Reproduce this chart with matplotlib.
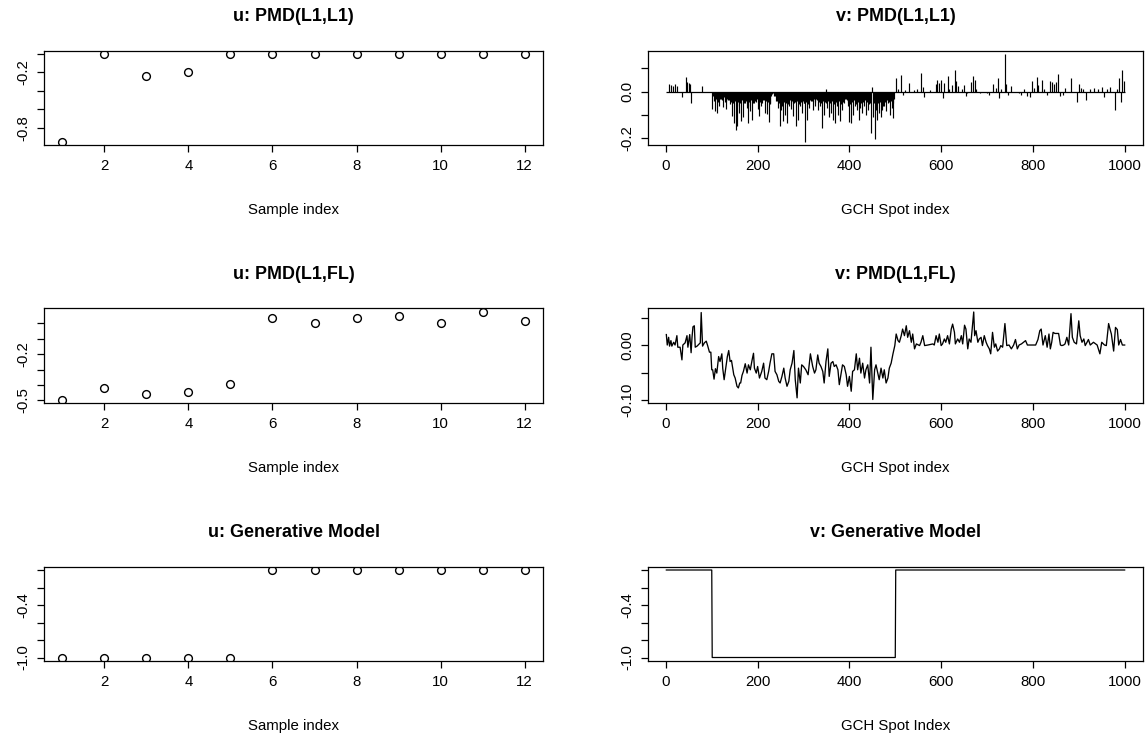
import numpy as np
import matplotlib
matplotlib.use("Agg")
import matplotlib.pyplot as plt
from matplotlib.ticker import FixedLocator, FixedFormatter

plt.rcParams['font.family'] = ['Liberation Sans', 'DejaVu Sans']

# ---------------- data ----------------
sample_index = [1, 2, 3, 4, 5, 6, 7, 8, 9, 10, 11, 12]
u_l1l1 = [-0.95, 0.0, -0.235, -0.20, 0.0, 0.0, 0.0, 0.0, 0.0, 0.0, 0.0, 0.0]
u_l1fl = [-0.494, -0.420, -0.457, -0.448, -0.392, 0.036, -0.001, 0.036, 0.044, -0.001, 0.072, 0.016]
u_gen = [-1.0, -1.0, -1.0, -1.0, -1.0, 0.0, 0.0, 0.0, 0.0, 0.0, 0.0, 0.0]

n_spots = 1000

# v: PMD(L1,L1) -- non-zero spikes (index, value); all other spots are 0
v_l1l1_idx = [6, 11, 16, 20, 24, 35, 44, 47, 50, 52, 55, 79,
              100, 102, 104, 106, 108, 110, 112, 114, 116, 118, 120, 122, 124, 126, 128, 130,
              132, 134, 136, 138, 140, 142, 144, 146, 148, 150, 152, 154, 156, 158, 160, 162,
              164, 166, 168, 170, 172, 174, 176, 178, 180, 182, 184, 186, 188, 190, 192, 194,
              196, 198, 200, 202, 204, 206, 208, 210, 212, 214, 216, 218, 220, 222, 224, 226,
              228, 230, 232, 234, 236, 238, 240, 242, 244, 246, 248, 250, 252, 254, 256, 258,
              260, 262, 264, 266, 268, 270, 272, 274, 276, 278, 280, 282, 284, 286, 288, 290,
              292, 294, 296, 298, 300, 302, 304, 306, 308, 310, 312, 314, 316, 318, 320, 322,
              324, 326, 328, 330, 332, 334, 336, 338, 340, 342, 344, 346, 348, 350, 352, 354,
              356, 358, 360, 362, 364, 366, 368, 370, 372, 374, 376, 378, 380, 382, 384, 386,
              388, 390, 392, 394, 396, 398, 400, 402, 404, 406, 408, 410, 412, 414, 416, 418,
              420, 422, 424, 426, 428, 430, 432, 434, 436, 438, 440, 442, 444, 446, 448, 450,
              452, 454, 456, 458, 460, 462, 464, 466, 468, 470, 472, 474, 476, 478, 480, 482,
              484, 486, 488, 490, 492, 494, 496, 498,
              502, 507, 513, 517, 522, 531, 540, 548, 557, 560, 563, 575, 588, 592, 596, 600,
              604, 607, 614, 618, 623, 630, 633, 637, 646, 650, 654, 657, 665, 670, 673, 677,
              685, 700, 705, 712, 719, 723, 727, 731, 739, 742, 746, 752, 770, 775, 781, 787,
              793, 798, 802, 809, 812, 820, 825, 831, 838, 842, 846, 850, 855, 858, 866, 871,
              882, 897, 900, 905, 910, 916, 924, 933, 942, 950, 956, 962, 967, 978, 983, 987,
              991, 995, 998]
v_l1l1_val = [0.03, 0.028, 0.025, 0.03, 0.025, -0.025, 0.06, 0.04, 0.035, 0.03, -0.05, 0.025,
              -0.076, -0.02, -0.04, -0.035, -0.083, -0.03, -0.09, -0.045, -0.06, -0.03, -0.03, -0.035,
              -0.065, -0.025, -0.045, -0.04, -0.076, -0.03, -0.035, -0.035, -0.055, -0.045, -0.105, -0.05,
              -0.133, -0.04, -0.165, -0.06, -0.148, -0.045, -0.09, -0.05, -0.126, -0.035, -0.11, -0.05,
              -0.05, -0.04, -0.07, -0.06, -0.133, -0.045, -0.085, -0.035, -0.12, -0.05, -0.05, -0.04,
              -0.045, -0.03, -0.076, -0.035, -0.105, -0.045, -0.06, -0.05, -0.035, -0.035, -0.09, -0.04,
              -0.097, -0.045, -0.13, -0.05, -0.055, -0.02, -0.01, -0.005, -0.02, -0.02, -0.04, -0.04,
              -0.07, -0.05, -0.148, -0.04, -0.08, -0.06, -0.125, -0.045, -0.1, -0.05, -0.133, -0.055,
              -0.06, -0.035, -0.075, -0.04, -0.105, -0.05, -0.05, -0.045, -0.148, -0.04, -0.12, -0.055,
              -0.06, -0.045, -0.09, -0.04, -0.05, -0.05, -0.213, -0.045, -0.12, -0.055, -0.07, -0.035,
              -0.04, -0.04, -0.08, -0.03, -0.06, -0.045, -0.03, -0.035, -0.08, -0.045, -0.06, -0.05,
              -0.155, -0.04, -0.1, -0.045, -0.05, 0.01, -0.07, -0.04, -0.11, -0.05, -0.09, -0.04,
              -0.12, -0.055, -0.135, -0.045, -0.06, -0.05, -0.1, -0.04, -0.125, -0.055, -0.08, -0.045,
              -0.05, -0.03, -0.03, -0.035, -0.06, -0.045, -0.13, -0.055, -0.135, -0.045, -0.1, -0.035,
              -0.06, -0.055, -0.08, -0.045, -0.12, -0.04, -0.07, -0.05, -0.09, -0.045, -0.06, -0.035,
              -0.1, -0.045, -0.08, -0.055, -0.05, -0.04, -0.178, 0.02, -0.11, -0.05, -0.203, -0.08,
              -0.12, -0.05, -0.09, -0.045, -0.11, -0.04, -0.08, -0.06, -0.06, -0.045, -0.085, -0.035,
              -0.05, -0.045, -0.1, -0.04, -0.07, -0.05, -0.112, -0.03,
              0.058, 0.01, 0.072, -0.015, 0.008, 0.037, 0.005, 0.01, 0.079, 0.02, -0.022, 0.005,
              0.03, 0.049, 0.035, 0.05, -0.026, 0.035, 0.067, 0.01, 0.026, 0.093, 0.045, 0.025,
              0.01, 0.027, -0.018, -0.005, 0.04, 0.067, 0.048, 0.01, -0.005, -0.005, -0.015, 0.032,
              0.017, 0.057, -0.026, 0.01, 0.16, 0.03, -0.015, 0.025, -0.005, -0.015, 0.012, -0.02,
              -0.025, 0.045, 0.013, 0.06, 0.027, 0.05, 0.01, -0.015, 0.045, 0.04, 0.03, 0.04,
              0.074, -0.018, -0.015, 0.013, 0.057, -0.044, 0.03, 0.017, 0.01, -0.035, 0.01, 0.013,
              0.01, 0.02, -0.025, 0.01, 0.02, -0.078, 0.01, 0.058, -0.046, 0.093, 0.045]

# v: PMD(L1,FL) -- values read along the index
v_l1fl_idx = [1, 3, 6, 8, 11, 13, 17, 20, 24, 26, 31, 35, 37, 42, 46, 48, 52, 55, 57, 59,
              62, 64, 68, 75, 77, 80, 84, 88, 91, 95, 98, 100, 102, 105, 108, 111, 115, 118, 122, 124,
              127, 131, 134, 137, 140, 143, 148, 151, 155, 158, 161, 163, 166, 169, 173, 177, 180, 184, 188, 191,
              193, 197, 200, 204, 209, 213, 216, 220, 224, 227, 231, 235, 238, 242, 246, 249, 253, 257, 260, 264,
              268, 271, 275, 279, 282, 286, 289, 293, 296, 300, 305, 310, 315, 320, 324, 327, 331, 334, 338, 342,
              345, 349, 353, 356, 360, 364, 367, 371, 375, 378, 382, 385, 389, 393, 396, 400, 404, 407, 411, 415,
              418, 422, 425, 429, 433, 436, 440, 444, 447, 451, 455, 458, 462, 465, 469, 473, 476, 480, 484, 487,
              491, 495, 499, 502, 506, 509, 513, 516, 520, 524, 527, 531, 535, 538, 542, 546, 553, 556, 560, 564,
              571, 582, 585, 589, 593, 596, 600, 603, 607, 610, 614, 618, 622, 625, 629, 631, 636, 640, 644, 647,
              651, 654, 658, 661, 665, 671, 673, 676, 680, 683, 687, 690, 694, 698, 701, 705, 708, 712, 716, 719,
              723, 727, 730, 734, 739, 743, 748, 753, 758, 762, 766, 770, 775, 784, 788, 795, 806, 811, 815, 818,
              822, 827, 831, 835, 838, 841, 844, 848, 851, 854, 856, 860, 863, 867, 870, 874, 878, 883, 886, 890,
              895, 900, 903, 907, 911, 914, 918, 921, 925, 932, 940, 946, 950, 956, 960, 965, 968, 971, 976, 980,
              984, 987, 991, 995, 1000]
v_l1fl_val = [0.019, 0.0, 0.014, -0.002, 0.008, -0.002, 0.005, 0.0, 0.017, -0.004, -0.004, -0.027, 0.0, 0.004, 0.017, -0.004, 0.019, -0.014, 0.014, 0.033,
              0.035, -0.004, -0.002, 0.004, 0.059, -0.002, 0.004, 0.007, -0.001, -0.013, -0.013, -0.045, -0.045, -0.062, -0.043, -0.051, -0.021, -0.030, -0.016, -0.043,
              -0.063, -0.039, -0.021, -0.010, -0.030, -0.028, -0.054, -0.060, -0.075, -0.078, -0.069, -0.069, -0.055, -0.048, -0.034, -0.051, -0.036, -0.045, -0.027, -0.015,
              -0.042, -0.051, -0.039, -0.060, -0.048, -0.033, -0.060, -0.063, -0.048, -0.033, -0.016, -0.016, -0.048, -0.054, -0.066, -0.069, -0.057, -0.042, -0.060, -0.075,
              -0.066, -0.045, -0.033, -0.010, -0.063, -0.096, -0.042, -0.069, -0.036, -0.039, -0.045, -0.054, -0.016, -0.039, -0.051, -0.045, -0.018, -0.033, -0.039, -0.048,
              -0.069, -0.030, -0.007, -0.057, -0.033, -0.030, -0.039, -0.036, -0.045, -0.072, -0.051, -0.036, -0.039, -0.054, -0.075, -0.057, -0.084, -0.048, -0.045, -0.016,
              -0.045, -0.024, -0.051, -0.033, -0.060, -0.045, -0.036, -0.069, -0.004, -0.099, -0.045, -0.036, -0.051, -0.063, -0.042, -0.060, -0.045, -0.069, -0.060, -0.042,
              -0.033, -0.016, -0.001, 0.020, 0.008, 0.005, 0.017, 0.029, 0.017, 0.035, 0.014, 0.026, 0.005, 0.020, -0.007, 0.002, -0.001, 0.005, 0.017, -0.001,
              0.0, 0.002, 0.0, 0.017, 0.005, 0.020, -0.001, 0.002, 0.011, 0.005, 0.017, 0.002, 0.029, 0.038, 0.023, 0.002, 0.011, 0.005, 0.017, 0.002,
              0.036, 0.029, -0.007, 0.011, 0.005, 0.060, 0.017, 0.026, 0.005, 0.011, 0.014, -0.001, 0.017, 0.005, -0.001, -0.007, -0.016, 0.023, -0.004, 0.002,
              -0.011, -0.007, -0.001, -0.004, 0.039, -0.001, 0.0, -0.007, 0.0, 0.010, -0.007, 0.0, 0.002, 0.008, 0.0, 0.0, 0.0, 0.010, 0.026, 0.029,
              0.0, 0.017, -0.004, 0.020, -0.007, 0.005, 0.023, 0.021, 0.021, 0.021, 0.021, 0.0, -0.001, 0.0, 0.002, 0.014, 0.0, 0.057, 0.014, 0.005,
              0.002, 0.044, 0.017, 0.005, 0.011, -0.001, 0.005, 0.010, 0.0, 0.005, 0.0, -0.016, 0.005, 0.0, -0.001, 0.039, 0.029, 0.020, -0.011, 0.032,
              0.028, 0.0, 0.010, 0.0, 0.0]

# v: Generative Model -- piecewise constant segments
v_gen_levels = [0.0, -1.0, 0.0]
v_gen_lengths = [100, 400, 500]

# axis ticks / labels
u_xticks = [2, 4, 6, 8, 10, 12]
v_xticks = [0, 200, 400, 600, 800, 1000]

# ---------------- figure ----------------
W, H = 1148, 736
fig = plt.figure(figsize=(W / 100, H / 100), dpi=100)

col_x = [(44, 543), (648, 1143)]
row_top = [50.5, 308.5, 566.5]
box_h = 94.5


def make_ax(r, c):
    x0, x1 = col_x[c]
    top = row_top[r]
    return fig.add_axes([x0 / W, 1 - (top + box_h) / H, (x1 - x0) / W, box_h / H])


TICK_FS = 10.8
TITLE_FS = 12.9


def style(ax, title, xlabel, xticks, yticks, ylabels):
    ax.margins(0.04)
    for s in ax.spines.values():
        s.set_linewidth(0.9)
        s.set_color('black')
    ax.xaxis.set_major_locator(FixedLocator(xticks))
    ax.xaxis.set_major_formatter(FixedFormatter([str(t) for t in xticks]))
    ax.yaxis.set_major_locator(FixedLocator(yticks))
    ax.yaxis.set_major_formatter(FixedFormatter(ylabels))
    ax.tick_params(axis='both', direction='out', length=5, width=0.9,
                   labelsize=TICK_FS, colors='black', pad=5)
    ax.tick_params(axis='y', labelrotation=90)
    for lab in ax.get_yticklabels():
        lab.set_va('center')
    ax.set_title(title, fontsize=TITLE_FS, fontweight='bold', pad=21)
    ax.set_xlabel(xlabel, fontsize=TICK_FS, labelpad=21.5)


# Left column: u
u_series = [u_l1l1, u_l1fl, u_gen]
u_titles = ['u: PMD(L1,L1)', 'u: PMD(L1,FL)', 'u: Generative Model']
u_yticks = [[-0.8, -0.6, -0.4, -0.2, 0.0],
            [-0.5, -0.4, -0.3, -0.2, -0.1, 0.0],
            [-1.0, -0.8, -0.6, -0.4, -0.2, 0.0]]
u_ylabels = [['-0.8', '', '', '-0.2', ''],
             ['-0.5', '', '', '-0.2', '', ''],
             ['-1.0', '', '', '-0.4', '', '']]
for r in range(3):
    ax = make_ax(r, 0)
    ax.plot(sample_index, u_series[r], linestyle='none', marker='o', markersize=5.6,
            markerfacecolor='none', markeredgecolor='black', markeredgewidth=1.0)
    style(ax, u_titles[r], 'Sample index', u_xticks, u_yticks[r], u_ylabels[r])

spot_index = np.arange(1, n_spots + 1)

# v: PMD(L1,L1) spikes
v1 = np.zeros(n_spots)
v1[np.array(v_l1l1_idx) - 1] = v_l1l1_val
ax = make_ax(0, 1)
ax.vlines(spot_index, 0, v1, colors='black', linewidth=0.85)
ax.hlines(0, spot_index[0], spot_index[-1], colors='black', linewidth=0.9)
style(ax, 'v: PMD(L1,L1)', 'GCH Spot index', v_xticks,
      [-0.2, -0.1, 0.0, 0.1], ['-0.2', '', '0.0', ''])

# v: PMD(L1,FL) line
ax = make_ax(1, 1)
ax.plot(v_l1fl_idx, v_l1fl_val, color='black', linewidth=0.95)
style(ax, 'v: PMD(L1,FL)', 'GCH Spot index', v_xticks,
      [-0.10, -0.05, 0.00, 0.05], ['-0.10', '', '0.00', ''])

# v: Generative model
v3 = np.repeat(v_gen_levels, v_gen_lengths)
ax = make_ax(2, 1)
ax.plot(spot_index, v3, color='black', linewidth=0.9)
style(ax, 'v: Generative Model', 'GCH Spot Index', v_xticks,
      [-1.0, -0.8, -0.6, -0.4, -0.2, 0.0], ['-1.0', '', '', '-0.4', '', ''])

fig.savefig('out.png', dpi=100)
